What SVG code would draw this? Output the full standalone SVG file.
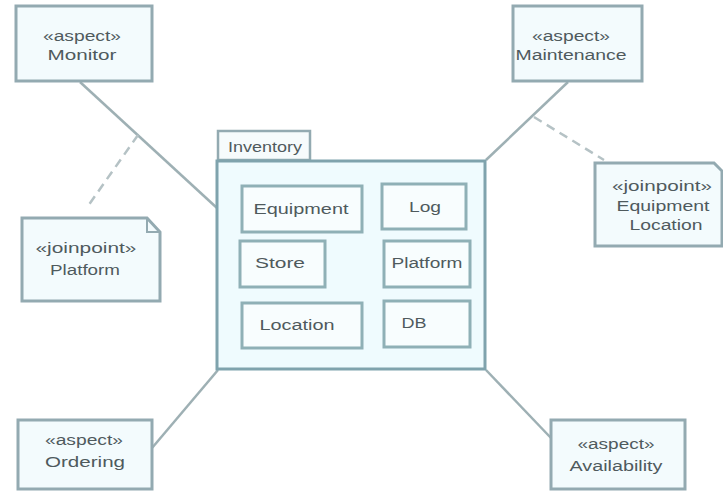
<svg xmlns="http://www.w3.org/2000/svg" width="723" height="493" viewBox="0 0 723 493">
<style>
.box{fill:#f3fbfd;stroke:#93aab1;stroke-width:3}
.pkg{fill:#effbfe;stroke:#7fa3ad;stroke-width:3}
.inner{fill:#f8fdfe;stroke:#8fb0b6;stroke-width:3}
.t{font-family:"Liberation Sans",Arial,sans-serif;font-size:14px;fill:#4f5a5d;text-anchor:middle}
.c{stroke:#9eb0b4;stroke-width:2.5;fill:none}
.d{stroke:#b5c2c5;stroke-width:2.5;fill:none;stroke-dasharray:9 6}
</style>
<rect width="723" height="493" fill="#ffffff"/>
<g id="connectors">
<line class="c" x1="80" y1="82" x2="217" y2="208"/>
<line class="d" x1="138" y1="135" x2="88" y2="206"/>
<line class="c" x1="568" y1="82" x2="486" y2="160"/>
<line class="d" x1="534" y1="117" x2="604" y2="160"/>
<line class="c" x1="152" y1="448" x2="218" y2="370"/>
<line class="c" x1="486" y1="370" x2="551" y2="438"/>
</g>
<g id="monitor">
<rect class="box" x="16" y="6" width="136" height="75"/>
<text class="t" x="82" y="41" textLength="78" lengthAdjust="spacingAndGlyphs">«aspect»</text>
<text class="t" x="82" y="60" textLength="69" lengthAdjust="spacingAndGlyphs">Monitor</text>
</g>
<g id="maintenance">
<rect class="box" x="513" y="6" width="129" height="75"/>
<text class="t" x="571" y="41" textLength="78" lengthAdjust="spacingAndGlyphs">«aspect»</text>
<text class="t" x="571" y="60" textLength="111" lengthAdjust="spacingAndGlyphs">Maintenance</text>
</g>
<g id="platform-jp">
<path class="box" d="M22,218 H147 L160,232 V301 H22 Z"/>
<path d="M147,218 V232 H160" fill="none" stroke="#93aab1" stroke-width="2"/>
<text class="t" x="86" y="253" textLength="101" lengthAdjust="spacingAndGlyphs">«joinpoint»</text>
<text class="t" x="85" y="275" textLength="70" lengthAdjust="spacingAndGlyphs">Platform</text>
</g>
<g id="equipment-location-jp">
<path class="box" d="M595,163 H714 L722,171 V246 H595 Z"/>
<text class="t" x="662" y="191" textLength="100" lengthAdjust="spacingAndGlyphs">«joinpoint»</text>
<text class="t" x="663" y="211" textLength="93" lengthAdjust="spacingAndGlyphs">Equipment</text>
<text class="t" x="666" y="230" textLength="73" lengthAdjust="spacingAndGlyphs">Location</text>
</g>
<g id="ordering">
<rect class="box" x="18" y="420" width="134" height="69"/>
<text class="t" x="84" y="445" textLength="78" lengthAdjust="spacingAndGlyphs">«aspect»</text>
<text class="t" x="85" y="467" textLength="80" lengthAdjust="spacingAndGlyphs">Ordering</text>
</g>
<g id="availability">
<rect class="box" x="551" y="420" width="134" height="69"/>
<text class="t" x="616" y="449" textLength="77" lengthAdjust="spacingAndGlyphs">«aspect»</text>
<text class="t" x="616" y="471" textLength="93" lengthAdjust="spacingAndGlyphs">Availability</text>
</g>
<g id="inventory">
<rect x="218" y="131" width="92" height="29" fill="#f6fbfc" stroke="#93aab1" stroke-width="2.5"/>
<text class="t" x="265" y="152" textLength="74" lengthAdjust="spacingAndGlyphs">Inventory</text>
<rect class="pkg" x="217" y="161" width="268" height="208"/>
</g>
<g id="equipment">
<rect class="inner" x="242" y="186" width="120" height="46"/>
<text class="t" x="301" y="214" textLength="95" lengthAdjust="spacingAndGlyphs">Equipment</text>
</g>
<g id="log">
<rect class="inner" x="382" y="184" width="84" height="45"/>
<text class="t" x="425" y="212" textLength="32" lengthAdjust="spacingAndGlyphs">Log</text>
</g>
<g id="store">
<rect class="inner" x="240" y="241" width="85" height="46"/>
<text class="t" x="280" y="268" textLength="50" lengthAdjust="spacingAndGlyphs">Store</text>
</g>
<g id="platform">
<rect class="inner" x="384" y="241" width="86" height="46"/>
<text class="t" x="427" y="268" textLength="71" lengthAdjust="spacingAndGlyphs">Platform</text>
</g>
<g id="location">
<rect class="inner" x="242" y="303" width="120" height="45"/>
<text class="t" x="297" y="330" textLength="75" lengthAdjust="spacingAndGlyphs">Location</text>
</g>
<g id="db">
<rect class="inner" x="384" y="301" width="86" height="46"/>
<text class="t" x="414" y="328" textLength="25" lengthAdjust="spacingAndGlyphs">DB</text>
</g>
</svg>
